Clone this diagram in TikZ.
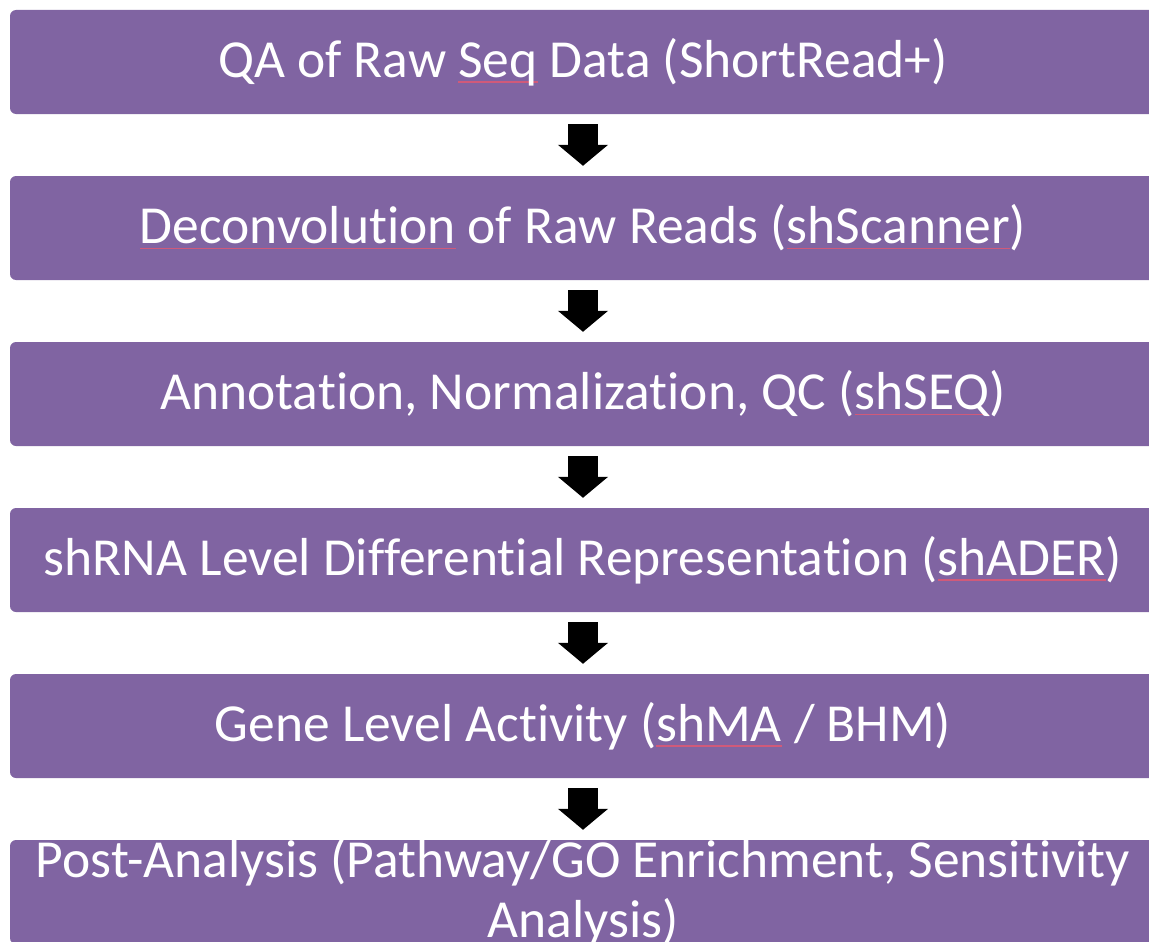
\documentclass[tikz,border=0pt]{standalone}
\usepackage{fontspec}
\setmainfont[Ligatures=NoCommon]{Carlito}
\usetikzlibrary{positioning, arrows.meta}
\definecolor{stagefill}{HTML}{8064A2}
\definecolor{spellred}{HTML}{D05A7A}
% thin red mark under the words the spell checker did not know
\newcommand{\spellmark}[1]{\setbox0\hbox{#1}\rlap{\textcolor{spellred}{\rule[-0.1em]{\wd0}{1.2pt}}}\box0\relax}
\tikzset{
  pipeline/.style={
	node distance=166pt, % centre to centre of two stages
	every node/.style={font=\fontsize{53.5}{60}\selectfont, text=white}, % white Calibri-like text
  },
  stage/.style={fill=stagefill, rounded corners=6pt, minimum width=1146pt, minimum height=104pt, inner sep=0pt}, % one purple step
  flow/.style={line width=30pt, -{Triangle[length=21pt, width=49pt]}}, % black block arrow
}

\begin{document}
\begin{tikzpicture}[pipeline]
\clip (0,0) rectangle (1149pt,-942pt);
\node[stage] (b1) at (583pt,-62pt) {QA of Raw \spellmark{Seq} Data (ShortRead+)};
\node[stage, below of=b1] (b2) {\spellmark{Deconvolution} of Raw Reads (\spellmark{shScanner})};
\node[stage, below of=b2] (b3) {Annotation, Normalization, QC (\spellmark{shSEQ})};
\node[stage, below of=b3] (b4) {shRNA Level Differential Representation (\spellmark{shADER})};
\node[stage, below of=b4] (b5) {Gene Level Activity (\spellmark{shMA} / BHM)};
\node[stage, below of=b5] (b6) {};
\node[align=center, inner sep=0pt] (t6) at (b6.center) {Post-Analysis (Pathway/GO Enrichment, Sensitivity\\Analysis)};

\draw[flow] ([yshift=-10pt]b1.south) -- ([yshift=10pt]b2.north);
\draw[flow] ([yshift=-10pt]b2.south) -- ([yshift=10pt]b3.north);
\draw[flow] ([yshift=-10pt]b3.south) -- ([yshift=10pt]b4.north);
\draw[flow] ([yshift=-10pt]b4.south) -- ([yshift=10pt]b5.north);
\draw[flow] ([yshift=-10pt]b5.south) -- ([yshift=10pt]b6.north);
\end{tikzpicture}
\end{document}
